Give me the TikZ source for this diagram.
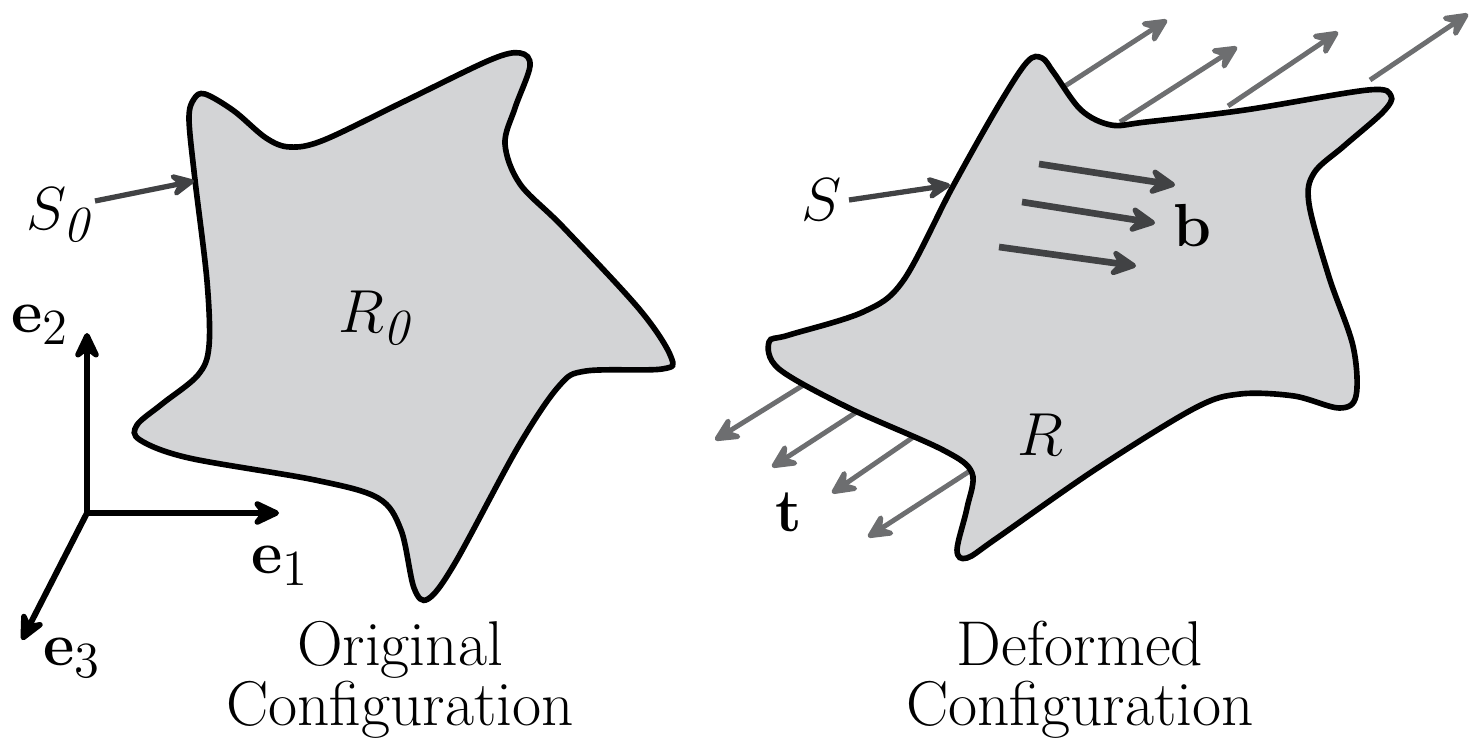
\documentclass[tikz,border=0pt]{standalone}
\usetikzlibrary{arrows.meta}
\definecolor{BodyGray}{HTML}{D3D4D6}
\definecolor{TractGray}{HTML}{6D6E70}
\definecolor{ForceGray}{HTML}{414244}
\tikzset{
  body/.style={draw=black,line width=1.6pt,fill=BodyGray},
  axis/.style={-{Stealth[length=3.4mm,width=3.2mm,inset=1.2mm,round]},line width=1.7pt},
  traction/.style={-{Stealth[length=3.3mm,width=3.2mm,inset=1.3mm,round]},TractGray,line width=1.4pt},
  bforce/.style={-{Stealth[length=3.3mm,width=3.3mm,inset=1.2mm,round]},ForceGray,line width=1.9pt},
  pointer/.style={-{Stealth[length=3.1mm,width=3mm,inset=1.2mm,round]},ForceGray,line width=1.5pt},
  lbl/.style={font=\fontsize{19}{19}\selectfont,inner sep=0pt},
  caption/.style={font=\fontsize{18}{17}\selectfont,align=center,inner sep=0pt}
}

\begin{document}
\begin{tikzpicture}[x=0.01cm,y=-0.01cm]
  \useasboundingbox (0,0) rectangle (1474,743);

  % original configuration
  \draw[body] plot[smooth cycle,tension=0.55] coordinates {
    (194,99) (205,94) (234,111) (266,138) (290,147) (324,140) (405,101)
    (490,60) (520,53) (530,66) (515,108) (505,144) (520,184) (563,227)
    (640,310) (671,357) (662,369) (586,371) (559,386) (518,447) (455,563)
    (428,599) (414,588) (401,530) (378,498) (315,480) (189,458) (140,440)
    (137,425) (162,404) (198,375) (209,346) (207,281) (195,180) (189,119)};
  \node[lbl] (Rzero) at (378,318) {$R_{\mathit{0}}$};
  \node[lbl] (Szero) at (62,215) {$S_{\mathit{0}}$};
  \coordinate (Szerotail) at (95,201);
  \coordinate (Szerotip) at (194,181);
  \draw[pointer] (Szerotail) -- (Szerotip);

  % basis vectors
  \coordinate (O) at (87,513);
  \coordinate (eonetip) at (279,513);
  \coordinate (etwotip) at (87,333);
  \coordinate (ethreetip) at (22,640);
  \draw[axis] (O) -- (eonetip);
  \draw[axis] (O) -- (etwotip);
  \draw[axis] (O) -- (ethreetip);
  \node[lbl] (eone) at (280,566) {$\mathbf{e}_1$};
  \node[lbl] (etwo) at (40,325) {$\mathbf{e}_2$};
  \node[lbl] (ethree) at (72,658) {$\mathbf{e}_3$};

  % surface tractions
  \draw[traction] (1062,88) -- (1167,20);
  \draw[traction] (1120,122) -- (1237,47);
  \draw[traction] (1228,106) -- (1338,32);
  \draw[traction] (1370,80) -- (1468,14);
  \draw[traction] (818,376) -- (715,440);
  \draw[traction] (872,402) -- (772,467);
  \draw[traction] (928,427) -- (832,493);
  \draw[traction] (976,467) -- (868,537);

  % deformed configuration
  \draw[body] plot[smooth cycle,tension=0.55] coordinates {
    (1027,62) (1042,58) (1054,73) (1081,110) (1111,125) (1146,122) (1245,110)
    (1368,90) (1391,96) (1383,112) (1344,146) (1314,173) (1309,204) (1329,277)
    (1353,346) (1356,396) (1339,408) (1294,396) (1240,394) (1195,408) (1096,469)
    (997,538) (967,558) (957,550) (967,508) (972,473) (943,450) (849,408)
    (779,369) (769,342) (789,335) (863,312) (903,281) (952,188) (997,108)};
  \node[lbl] (Rdef) at (1040,435) {$R$};
  \node[lbl] (Sdef) at (822,200) {$S$};
  \coordinate (Sdeftail) at (849,200);
  \coordinate (Sdeftip) at (950,185);
  \draw[pointer] (Sdeftail) -- (Sdeftip);

  % body forces
  \draw[bforce] (1039,164) -- (1175,185);
  \draw[bforce] (1022,202) -- (1155,223);
  \draw[bforce] (999,247) -- (1136,266);
  \node[lbl] (bvec) at (1192,225) {$\mathbf{b}$};
  \node[lbl] (tvec) at (789,512) {$\mathbf{t}$};

  \node[caption] (origcap) at (400,680) {Original\\Configuration};
  \node[caption] (defcap) at (1080,680) {Deformed\\Configuration};
\end{tikzpicture}
\end{document}
